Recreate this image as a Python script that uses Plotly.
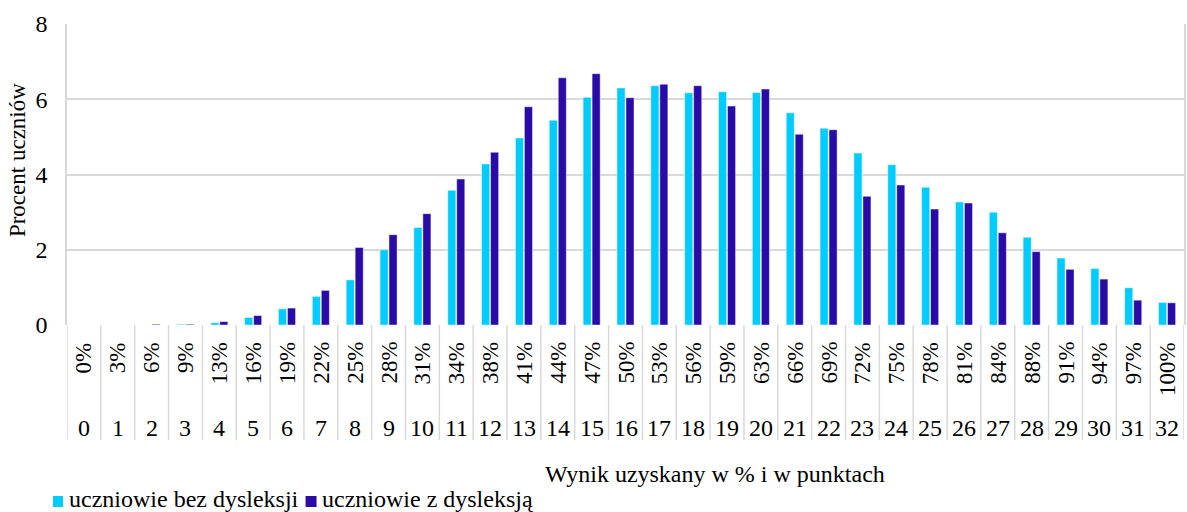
import plotly.graph_objects as go

# ---- data ----
points = list(range(33))
point_labels = [str(p) for p in points]
percent_labels = ["0%", "3%", "6%", "9%", "13%", "16%", "19%", "22%", "25%", "28%",
                  "31%", "34%", "38%", "41%", "44%", "47%", "50%", "53%", "56%", "59%",
                  "63%", "66%", "69%", "72%", "75%", "78%", "81%", "84%", "88%", "91%",
                  "94%", "97%", "100%"]
bez_dysleksji = [0.0, 0.0, 0.0, 0.02, 0.06, 0.20, 0.43, 0.76, 1.20, 2.00,
                 2.59, 3.58, 4.28, 4.97, 5.44, 6.05, 6.30, 6.36, 6.17, 6.20,
                 6.18, 5.64, 5.23, 4.57, 4.26, 3.66, 3.27, 3.00, 2.33, 1.78,
                 1.50, 0.99, 0.60]
z_dysleksja = [0.0, 0.0, 0.02, 0.02, 0.09, 0.25, 0.45, 0.92, 2.06, 2.40,
               2.96, 3.88, 4.59, 5.80, 6.57, 6.68, 6.04, 6.40, 6.36, 5.82,
               6.27, 5.07, 5.19, 3.42, 3.72, 3.08, 3.24, 2.45, 1.95, 1.48,
               1.22, 0.66, 0.59]
series_names = ["uczniowie bez dysleksji", "uczniowie z dysleksją"]
y_ticks = [0, 2, 4, 6, 8]

# ---- style ----
FONT = "Liberation Serif"
GRID = "#D9D9D9"
C1 = "#00CCFF"
C2 = "#2A0BA8"
W, H = 1187, 512
L, R, T, B = 67, 1186, 24, 325


def px_x(px):
    return (px - L) / (R - L)


def px_y(py):
    return (B - py) / (B - T)


fig = go.Figure()
fig.add_bar(x=points, y=bez_dysleksji, name=series_names[0], showlegend=False,
            marker=dict(color=C1, line=dict(color="rgba(255,255,255,0.45)", width=1)))
fig.add_bar(x=points, y=z_dysleksja, name=series_names[1], showlegend=False,
            marker=dict(color=C2, line=dict(color="rgba(255,255,255,0.45)", width=1)))

annotations = []
shapes = []
for p, pl, nl in zip(points, percent_labels, point_labels):
    annotations.append(dict(x=p, xref="x", y=px_y(340), yref="paper", text=pl,
                            textangle=-90, xanchor="center", yanchor="top",
                            showarrow=False, font=dict(family=FONT, size=23, color="black")))
    annotations.append(dict(x=p, xref="x", y=px_y(428), yref="paper", text=nl,
                            xanchor="center", yanchor="middle",
                            showarrow=False, font=dict(family=FONT, size=24, color="black")))
for k in range(len(points) + 1):
    shapes.append(dict(type="line", xref="x", yref="paper", x0=k - 0.5, x1=k - 0.5,
                       y0=0, y1=px_y(440), line=dict(color=GRID, width=1.5)))

# axis titles
annotations.append(dict(x=px_x(716), xref="paper", y=px_y(474), yref="paper",
                        text="Wynik uzyskany w % i w punktach", xanchor="center", yanchor="middle",
                        showarrow=False, font=dict(family=FONT, size=24, color="black")))
annotations.append(dict(x=px_x(17), xref="paper", y=px_y(160), yref="paper",
                        text="Procent uczniów", textangle=-90, xanchor="center", yanchor="middle",
                        showarrow=False, font=dict(family=FONT, size=23, color="black")))

# legend (squares + names)
legend_items = [(53, 63, 67, C1, series_names[0]), (306, 317, 320, C2, series_names[1])]
for sx0, sx1, tx, col, name in legend_items:
    shapes.append(dict(type="rect", xref="paper", yref="paper",
                       x0=px_x(sx0), x1=px_x(sx1), y0=px_y(507), y1=px_y(496),
                       fillcolor=col, line=dict(width=0)))
    annotations.append(dict(x=px_x(tx), xref="paper", y=px_y(499), yref="paper",
                            text=name, xanchor="left", yanchor="middle",
                            showarrow=False, font=dict(family=FONT, size=24, color="black")))

fig.update_layout(
    width=W, height=H,
    margin=dict(l=L, r=W - R, t=T, b=H - B),
    paper_bgcolor="white", plot_bgcolor="white",
    barmode="group", bargap=0.47, bargroupgap=0.1,
    font=dict(family=FONT, size=24, color="black"),
    annotations=annotations, shapes=shapes,
    showlegend=False,
    xaxis=dict(range=[-0.5, len(points) - 0.5], showticklabels=False, showgrid=False,
               zeroline=False, showline=False, ticks=""),
    yaxis=dict(range=[0, 8], tickvals=y_ticks, showgrid=True, gridcolor=GRID, gridwidth=1.5,
               zeroline=False, showline=True, mirror=True, linecolor=GRID, linewidth=1.5,
               ticks="", ticklabelstandoff=13,
               tickfont=dict(family=FONT, size=24, color="black")),
)

fig.write_html("out.html", config={"displayModeBar": False},
               post_script="document.body.style.margin='0';document.body.style.padding='0';")
